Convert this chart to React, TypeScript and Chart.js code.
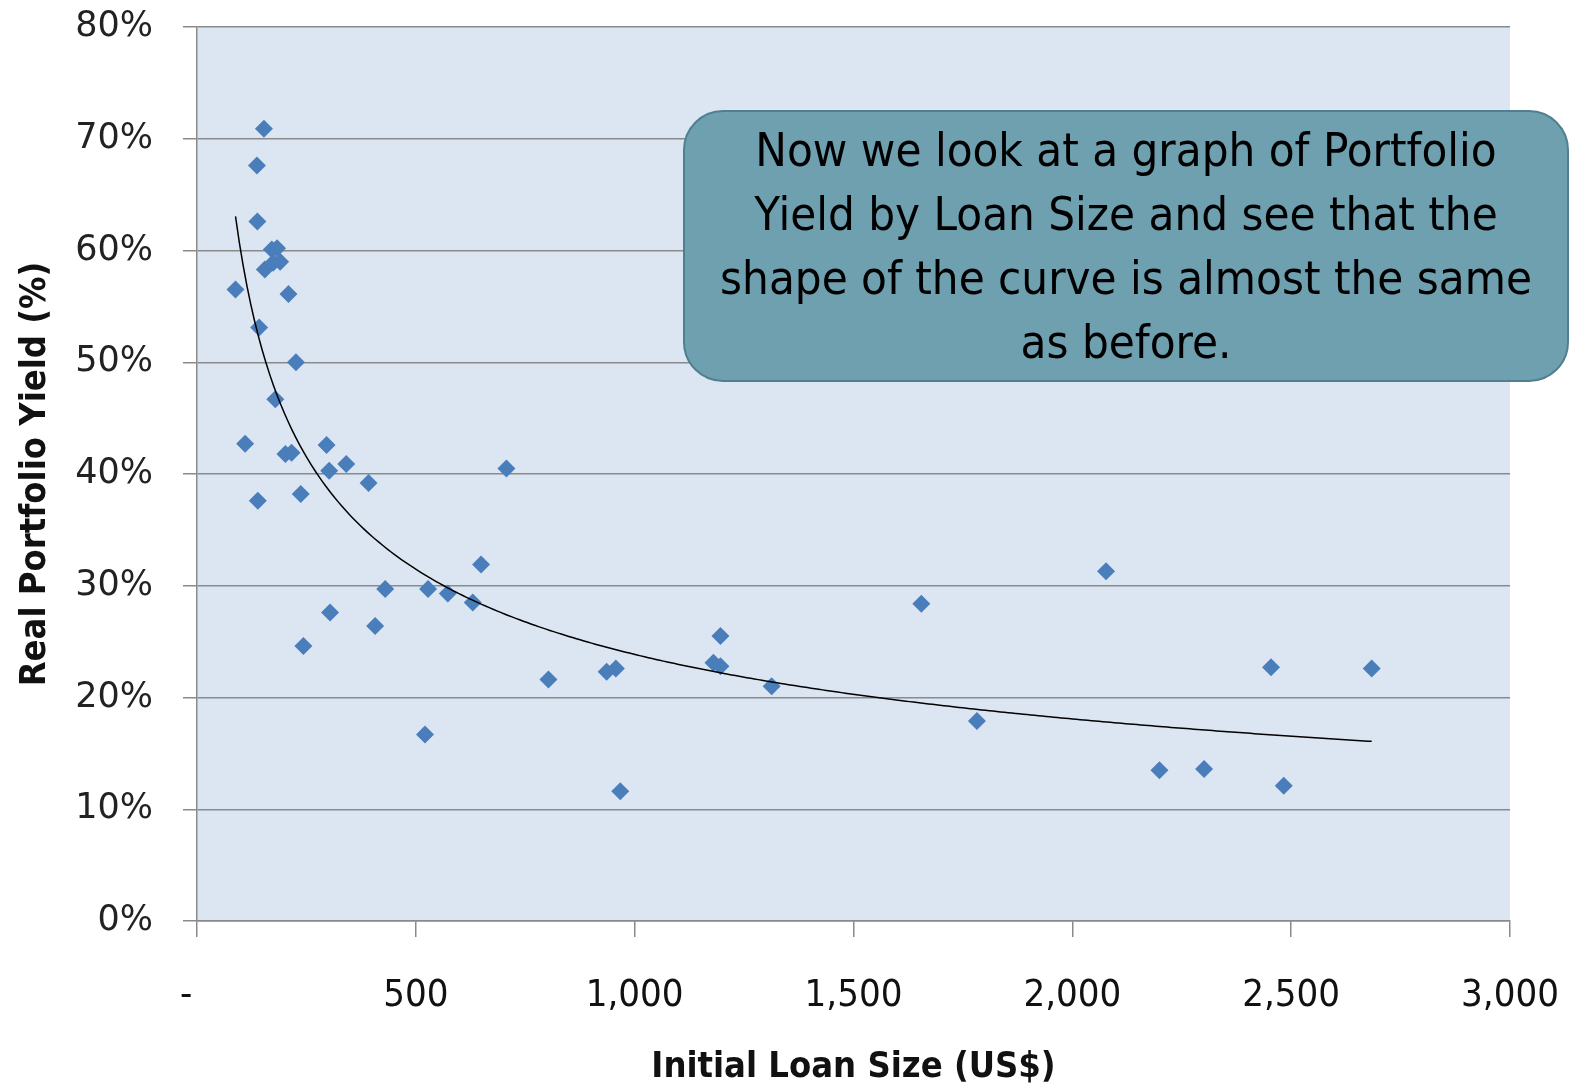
import React, { useEffect, useRef } from "react";
import { Chart, registerables } from "chart.js";

Chart.register(...registerables);

// Initial loan size (US$)
const loanSize: number[] = [
  153, 137, 138, 171, 183, 190, 174, 155, 88, 209, 142, 226, 179, 110, 202, 216,
  296, 341, 302, 392, 139, 237, 707, 649, 430, 528, 573, 630, 304, 407, 243,
  1196, 1180, 1196, 936, 957, 803, 1313, 521, 967,
  1655, 2077, 2454, 2684, 1782, 2199, 2301, 2483,
];
// Real portfolio yield (%)
const yieldPct: number[] = [
  70.9, 67.6, 62.6, 60.1, 60.2, 59.0, 58.9, 58.3, 56.5, 56.1, 53.1, 50.0, 46.7, 42.7, 41.8, 41.9,
  42.6, 40.9, 40.3, 39.2, 37.6, 38.2, 40.5, 31.9, 29.7, 29.7, 29.3, 28.5, 27.6, 26.4, 24.6,
  25.5, 23.1, 22.8, 22.3, 22.6, 21.6, 21.0, 16.7, 11.6,
  28.4, 31.3, 22.7, 22.6, 17.9, 13.5, 13.6, 12.1,
];

const yTicks: number[] = [0, 10, 20, 30, 40, 50, 60, 70, 80];
const xTicks: number[] = [0, 500, 1000, 1500, 2000, 2500, 3000];

const calloutLines: string[] = [
  "Now we look at a graph of Portfolio",
  "Yield by Loan Size and see that the",
  "shape of the curve is almost the same",
  "as before.",
];

// Power trendline (least squares in log-log space), like Excel's power trend
function powerTrend(xs: number[], ys: number[], steps: number) {
  const n = xs.length;
  let sx = 0, sy = 0, sxx = 0, sxy = 0;
  for (let i = 0; i < n; i++) {
    const lx = Math.log(xs[i]);
    const ly = Math.log(ys[i]);
    sx += lx; sy += ly; sxx += lx * lx; sxy += lx * ly;
  }
  const b = (n * sxy - sx * sy) / (n * sxx - sx * sx);
  const lnA = (sy - b * sx) / n;
  const minX = Math.min(...xs);
  const maxX = Math.max(...xs);
  const pts: { x: number; y: number }[] = [];
  for (let i = 0; i <= steps; i++) {
    const x = minX + ((maxX - minX) * i) / steps;
    pts.push({ x, y: Math.exp(lnA) * Math.pow(x, b) });
  }
  return pts;
}

const plotBg = {
  id: "plotBg",
  beforeDraw(chart: any) {
    const { ctx, chartArea } = chart;
    ctx.save();
    ctx.fillStyle = "#dce6f2";
    ctx.fillRect(chartArea.left, chartArea.top, chartArea.right - chartArea.left, chartArea.bottom - chartArea.top);
    ctx.restore();
  },
};

export default function App() {
  const canvasRef = useRef<HTMLCanvasElement | null>(null);

  useEffect(() => {
    document.body.style.margin = "0";
    const canvas = canvasRef.current;
    if (!canvas) return;
    const points = loanSize.map((x, i) => ({ x, y: yieldPct[i] }));
    const trend = powerTrend(loanSize, yieldPct, 300);
    const narrow = "'DejaVu Sans Condensed', 'Noto Sans', sans-serif";
    const chart = new Chart(canvas, {
      type: "scatter",
      data: {
        datasets: [
          {
            label: "Trend",
            data: trend,
            showLine: true,
            borderColor: "#000000",
            borderWidth: 1.5,
            pointRadius: 0,
            pointHoverRadius: 0,
            fill: false,
            tension: 0,
          } as any,
          {
            label: "Portfolio Yield",
            data: points,
            pointStyle: "rectRot",
            pointRadius: 9,
            pointHoverRadius: 9,
            backgroundColor: "#4a7ebb",
            borderColor: "#4a7ebb",
            borderWidth: 0,
          } as any,
        ],
      },
      options: {
        animation: false,
        responsive: false,
        maintainAspectRatio: false,
        layout: { padding: { top: 27, right: 62, bottom: 0, left: 0 } },
        plugins: {
          legend: { display: false },
          tooltip: { enabled: false },
        },
        scales: {
          x: {
            type: "linear",
            min: 0,
            max: 3000,
            afterBuildTicks: (axis: any) => {
              axis.ticks = xTicks.map((v) => ({ value: v }));
            },
            afterFit: (axis: any) => {
              axis.height = 170;
              axis.paddingLeft = 0;
              axis.paddingRight = 0;
            },
            ticks: {
              padding: 36,
              color: "#111111",
              font: { family: narrow, size: 38 },
              maxRotation: 0,
              callback: (v: any) => (Number(v) === 0 ? "-  " : Number(v).toLocaleString("en-US")),
            },
            grid: {
              drawOnChartArea: false,
              drawTicks: true,
              tickLength: 16,
              color: "#8a8a8a",
              lineWidth: 1.5,
            },
            border: { display: true, color: "#8a8a8a", width: 1.5 },
            title: {
              display: true,
              text: "Initial Loan Size (US$)",
              color: "#111111",
              font: { family: narrow, size: 36, weight: "bold" },
              padding: { top: 0, bottom: 2 },
            },
          },
          y: {
            type: "linear",
            min: 0,
            max: 80,
            afterBuildTicks: (axis: any) => {
              axis.ticks = yTicks.map((v) => ({ value: v }));
            },
            afterFit: (axis: any) => {
              axis.width = 197;
              axis.paddingTop = 0;
              axis.paddingBottom = 0;
            },
            ticks: {
              padding: 30,
              color: "#222222",
              font: { family: "'DejaVu Sans', Verdana, sans-serif", size: 35 },
              callback: (v: any) => `${v}%`,
            },
            grid: {
              drawOnChartArea: true,
              drawTicks: true,
              tickLength: 14,
              color: "#8a8a8a",
              lineWidth: 1.5,
            },
            border: { display: true, color: "#8a8a8a", width: 1.5 },
            title: {
              display: true,
              text: "Real Portfolio Yield (%)",
              color: "#111111",
              font: { family: narrow, size: 36, weight: "bold" },
              padding: { top: 14, bottom: 0 },
            },
          },
        },
      },
      plugins: [plotBg],
    });
    return () => chart.destroy();
  }, []);

  return (
    <div style={{ position: "relative", width: 1572, height: 1091, overflow: "hidden", background: "#ffffff" }}>
      <canvas ref={canvasRef} width={1572} height={1091} style={{ display: "block", width: 1572, height: 1091 }} />
      <div
        style={{
          position: "absolute",
          left: 683,
          top: 110,
          width: 886,
          height: 272,
          boxSizing: "border-box",
          background: "#6fa0b0",
          border: "2px solid #4f7f90",
          borderRadius: 40,
          display: "flex",
          flexDirection: "column",
          justifyContent: "center",
          alignItems: "center",
          fontFamily: "'DejaVu Sans Condensed', 'Noto Sans', sans-serif",
          fontSize: 47,
          lineHeight: "64px",
          color: "#000000",
          textAlign: "center",
        }}
      >
        {calloutLines.map((l, i) => (
          <div key={i} style={{ whiteSpace: "nowrap" }}>{l}</div>
        ))}
      </div>
    </div>
  );
}
